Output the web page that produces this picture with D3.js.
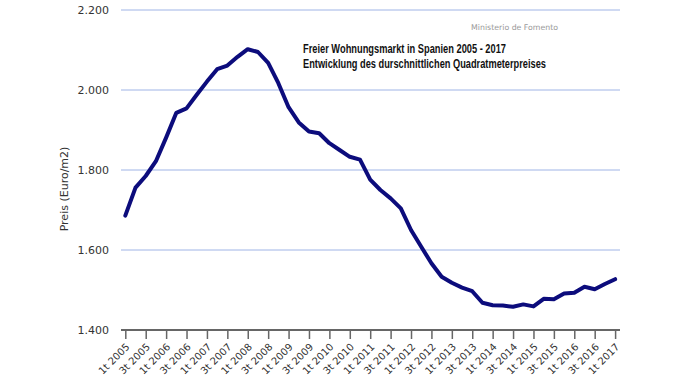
<!DOCTYPE html>
<html><head><meta charset="utf-8">
<script src="https://cdn.jsdelivr.net/npm/d3@7/dist/d3.min.js"></script>
<style>
html,body{margin:0;padding:0;background:#fff;}
svg{display:block;}
</style>
</head><body>
<svg id="chart" width="678" height="381"></svg>
<script>
const quarters = [
 "1t 2005","2t 2005","3t 2005","4t 2005",
 "1t 2006","2t 2006","3t 2006","4t 2006",
 "1t 2007","2t 2007","3t 2007","4t 2007",
 "1t 2008","2t 2008","3t 2008","4t 2008",
 "1t 2009","2t 2009","3t 2009","4t 2009",
 "1t 2010","2t 2010","3t 2010","4t 2010",
 "1t 2011","2t 2011","3t 2011","4t 2011",
 "1t 2012","2t 2012","3t 2012","4t 2012",
 "1t 2013","2t 2013","3t 2013","4t 2013",
 "1t 2014","2t 2014","3t 2014","4t 2014",
 "1t 2015","2t 2015","3t 2015","4t 2015",
 "1t 2016","2t 2016","3t 2016","4t 2016",
 "1t 2017"
];
const prices = [
 1686,1756,1785,1822,
 1881,1943,1954,1988,
 2021,2052,2061,2083,
 2102,2095,2068,2017,
 1957,1919,1896,1892,
 1867,1850,1833,1826,
 1776,1750,1729,1704,
 1650,1608,1567,1533,
 1518,1506,1497,1468,
 1462,1461,1458,1464,
 1459,1478,1477,1491,
 1493,1508,1502,1515,
 1527
];
const yTicks = [1400,1600,1800,2000,2200];
const tickLabels = quarters.filter((q,i)=>i%2===0);
const titleLines = ["Freier Wohnungsmarkt in Spanien 2005 - 2017","Entwicklung des durschnittlichen Quadratmeterpreises"];
const sourceText = "Ministerio de Fomento";
const yLabel = "Preis (Euro/m2)";

const svg = d3.select("#chart");
const gridLeft = 121, gridRight = 620;
const x = d3.scalePoint().domain(quarters).range([125.3, 615.1]);
const y = d3.scaleLinear().domain([1400,2200]).range([330,10]);

const fmt = v => d3.format(",.3f")(v/1000).replace(",", "");

// gridlines
svg.append("g").selectAll("line").data(yTicks.filter(t=>t>1400)).join("line")
  .attr("x1",gridLeft).attr("x2",gridRight)
  .attr("y1",d=>y(d)).attr("y2",d=>y(d))
  .attr("stroke","#9fb4e6").attr("stroke-width",1);

// y labels
svg.append("g").selectAll("text").data(yTicks).join("text")
  .attr("x",109).attr("y",d=>y(d)).attr("dy","0.35em")
  .attr("text-anchor","end")
  .attr("font-family","DejaVu Sans, Verdana, sans-serif").attr("font-size",11)
  .attr("fill","#333")
  .text(d=>fmt(d));

// x axis
const xAxis = d3.axisBottom(x).tickValues(tickLabels).tickSize(9).tickSizeOuter(0);
const gx = svg.append("g").attr("transform","translate(0,330)").call(xAxis);
gx.select(".domain").attr("d",`M${gridLeft},0H${gridRight}`).attr("stroke","#666").attr("stroke-width",2);
gx.selectAll(".tick line").attr("stroke","#666").attr("stroke-width",1.5);
gx.selectAll(".tick text")
  .attr("font-family","DejaVu Sans, Verdana, sans-serif").attr("font-size",10).attr("fill","#333")
  .attr("text-anchor","end")
  .attr("x",0).attr("y",0).attr("dy","0.35em")
  .attr("transform","translate(2,15) rotate(-45)");

// line
svg.append("path").datum(prices)
  .attr("fill","none").attr("stroke","#0c0c7c").attr("stroke-width",4)
  .attr("stroke-linejoin","round").attr("stroke-linecap","round")
  .attr("d", d3.line().x((d,i)=>x(quarters[i])).y(d=>y(d)));

// y axis title
svg.append("text")
  .attr("transform","translate(68,189) rotate(-90)")
  .attr("text-anchor","middle")
  .attr("font-family","DejaVu Sans, Verdana, sans-serif").attr("font-size",11)
  .attr("fill","#333").text(yLabel);

// source
svg.append("text").attr("x",558).attr("y",30).attr("text-anchor","end")
  .attr("font-family","DejaVu Sans, Verdana, sans-serif").attr("font-size",7.8)
  .attr("fill","#999").text(sourceText);

// title
const titleWidths = [203, 243];
svg.append("g").selectAll("text").data(titleLines).join("text")
  .attr("x",303).attr("y",(d,i)=>53+i*15)
  .attr("font-family","Liberation Sans, Arial, sans-serif")
  .attr("font-weight","bold").attr("font-size",12.5)
  .attr("textLength",(d,i)=>titleWidths[i]).attr("lengthAdjust","spacingAndGlyphs")
  .attr("fill","#111").text(d=>d);
</script>
</body></html>
